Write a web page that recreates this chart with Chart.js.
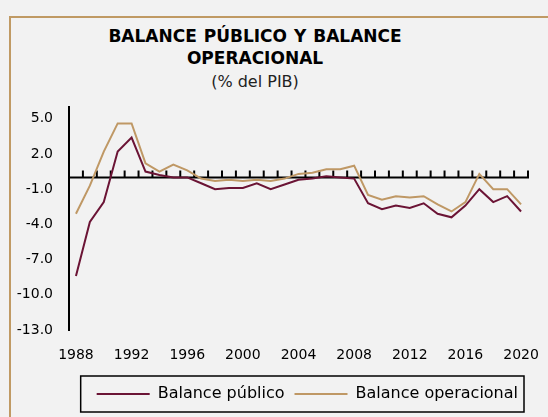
<!DOCTYPE html>
<html>
<head>
<meta charset="utf-8">
<script src="https://cdn.jsdelivr.net/npm/chart.js@4/dist/chart.umd.min.js"></script>
<style>
  html, body { margin: 0; padding: 0; background: #f2f2f2; width: 548px; height: 417px; overflow: hidden; }
  #frame { position: absolute; left: 9px; top: 16px; width: 700px; height: 600px; border-top: 2px solid #c09a64; border-left: 2px solid #c09a64; box-sizing: border-box; }
  .t { position: absolute; left: 55px; width: 400px; text-align: center; color: #000; font-family: "DejaVu Sans", sans-serif; white-space: nowrap; }
  #t1 { top: 26px; font-weight: bold; font-size: 17px; word-spacing: 1px; }
  #t2 { top: 48px; font-weight: bold; font-size: 17px; }
  #t3 { top: 72px; font-size: 16px; color: #222; }
  #wrap { position: absolute; left: 0; top: 0; width: 548px; height: 417px; }
</style>
</head>
<body>
<div id="frame"></div>
<div class="t" id="t1">BALANCE PÚBLICO Y BALANCE</div>
<div class="t" id="t2">OPERACIONAL</div>
<div class="t" id="t3">(% del PIB)</div>
<div id="wrap"><canvas id="c" width="548" height="417"></canvas></div>
<script>
const years = ["1988","1989","1990","1991","1992","1993","1994","1995","1996","1997","1998","1999","2000","2001","2002","2003","2004","2005","2006","2007","2008","2009","2010","2011","2012","2013","2014","2015","2016","2017","2018","2019","2020"];
const balancePublico = [-8.4,-3.8,-2.1,2.2,3.4,0.5,0.2,0.0,0.0,-0.5,-1.0,-0.9,-0.9,-0.5,-1.0,-0.6,-0.2,-0.1,0.1,0.0,-0.1,-2.2,-2.7,-2.4,-2.6,-2.2,-3.1,-3.4,-2.4,-1.0,-2.1,-1.6,-2.9];
const balanceOperacional = [-3.1,-0.7,2.2,4.6,4.6,1.2,0.5,1.1,0.6,-0.1,-0.3,-0.2,-0.3,-0.2,-0.3,-0.1,0.3,0.4,0.7,0.7,1.0,-1.5,-1.9,-1.6,-1.7,-1.6,-2.3,-2.9,-2.1,0.3,-1.0,-1.0,-2.3];
const yTickValues = [5, 2, -1, -4, -7, -10, -13];
const xLabelEvery = 4;

const maroon = '#6b1435';
const tan = '#bf9865';

const zeroAxis = {
  id: 'zeroAxis',
  beforeDatasetsDraw(chart) {
    const x = chart.scales.x, y = chart.scales.y, ctx = chart.ctx;
    const y0 = y.getPixelForValue(0);
    const n = years.length;
    const step = x.getPixelForValue(1) - x.getPixelForValue(0);
    const left = x.getPixelForValue(0) - step / 2;
    const right = x.getPixelForValue(n - 1) + step / 2;
    ctx.save();
    ctx.strokeStyle = '#000';
    ctx.lineWidth = 2;
    ctx.beginPath();
    ctx.moveTo(left, y0);
    ctx.lineTo(right, y0);
    for (let i = 0; i <= n; i++) {
      const px = x.getPixelForValue(0) + (i - 0.5) * step;
      ctx.moveTo(px, y0 - 7);
      ctx.lineTo(px, y0 + 1);
    }
    ctx.stroke();
    ctx.restore();
  },
  afterDraw(chart) {
    const lg = chart.legend, ctx = chart.ctx;
    if (!lg || !lg.legendHitBoxes.length) return;
    const hb = lg.legendHitBoxes;
    const l = hb[0].left - 16;
    const r = hb[hb.length - 1].left + hb[hb.length - 1].width + 6;
    ctx.save();
    ctx.strokeStyle = '#000';
    ctx.lineWidth = 1.5;
    ctx.strokeRect(l, lg.top, r - l, lg.bottom - lg.top);
    ctx.restore();
  }
};

new Chart(document.getElementById('c'), {
  type: 'line',
  data: {
    labels: years,
    datasets: [
      { label: 'Balance público', data: balancePublico, borderColor: maroon, backgroundColor: maroon, borderWidth: 2, pointRadius: 0, tension: 0 },
      { label: 'Balance operacional', data: balanceOperacional, borderColor: tan, backgroundColor: tan, borderWidth: 2, pointRadius: 0, tension: 0 }
    ]
  },
  options: {
    responsive: false,
    animation: false,
    layout: { padding: { left: 0, right: 20, top: 107, bottom: 5 } },
    plugins: {
      title: { display: false },
      tooltip: { enabled: false },
      legend: {
        position: 'bottom',
        align: 'end',
        labels: {
          color: '#000',
          font: { family: 'DejaVu Sans', size: 16 },
          boxWidth: 53,
          boxHeight: 2,
          padding: 10,
          generateLabels: (chart) => Chart.defaults.plugins.legend.labels.generateLabels(chart).map(l => ({ ...l, lineWidth: 0, fillStyle: l.strokeStyle }))
        }
      }
    },
    scales: {
      x: {
        type: 'category',
        offset: true,
        grid: { display: false, drawTicks: false },
        border: { display: false },
        ticks: {
          autoSkip: false, maxRotation: 0, padding: 17,
          color: '#000',
          font: { family: 'DejaVu Sans', size: 14 },
          callback: (v, i) => (i % xLabelEvery === 0 ? years[i] : '')
        },
        afterFit: (s) => { s.height = 46; s.paddingLeft = 0; s.paddingRight = 0; }
      },
      y: {
        min: -13, max: 6,
        afterBuildTicks: (s) => { s.ticks = yTickValues.map(v => ({ value: v })); },
        grid: { display: false, drawTicks: false },
        border: { display: true, color: '#000', width: 2 },
        ticks: {
          color: '#000', padding: 16,
          font: { family: 'DejaVu Sans', size: 14 },
          callback: (v) => Number(v).toFixed(1)
        },
        afterFit: (s) => { s.width = 69; }
      }
    }
  },
  plugins: [zeroAxis]
});
</script>
</body>
</html>
